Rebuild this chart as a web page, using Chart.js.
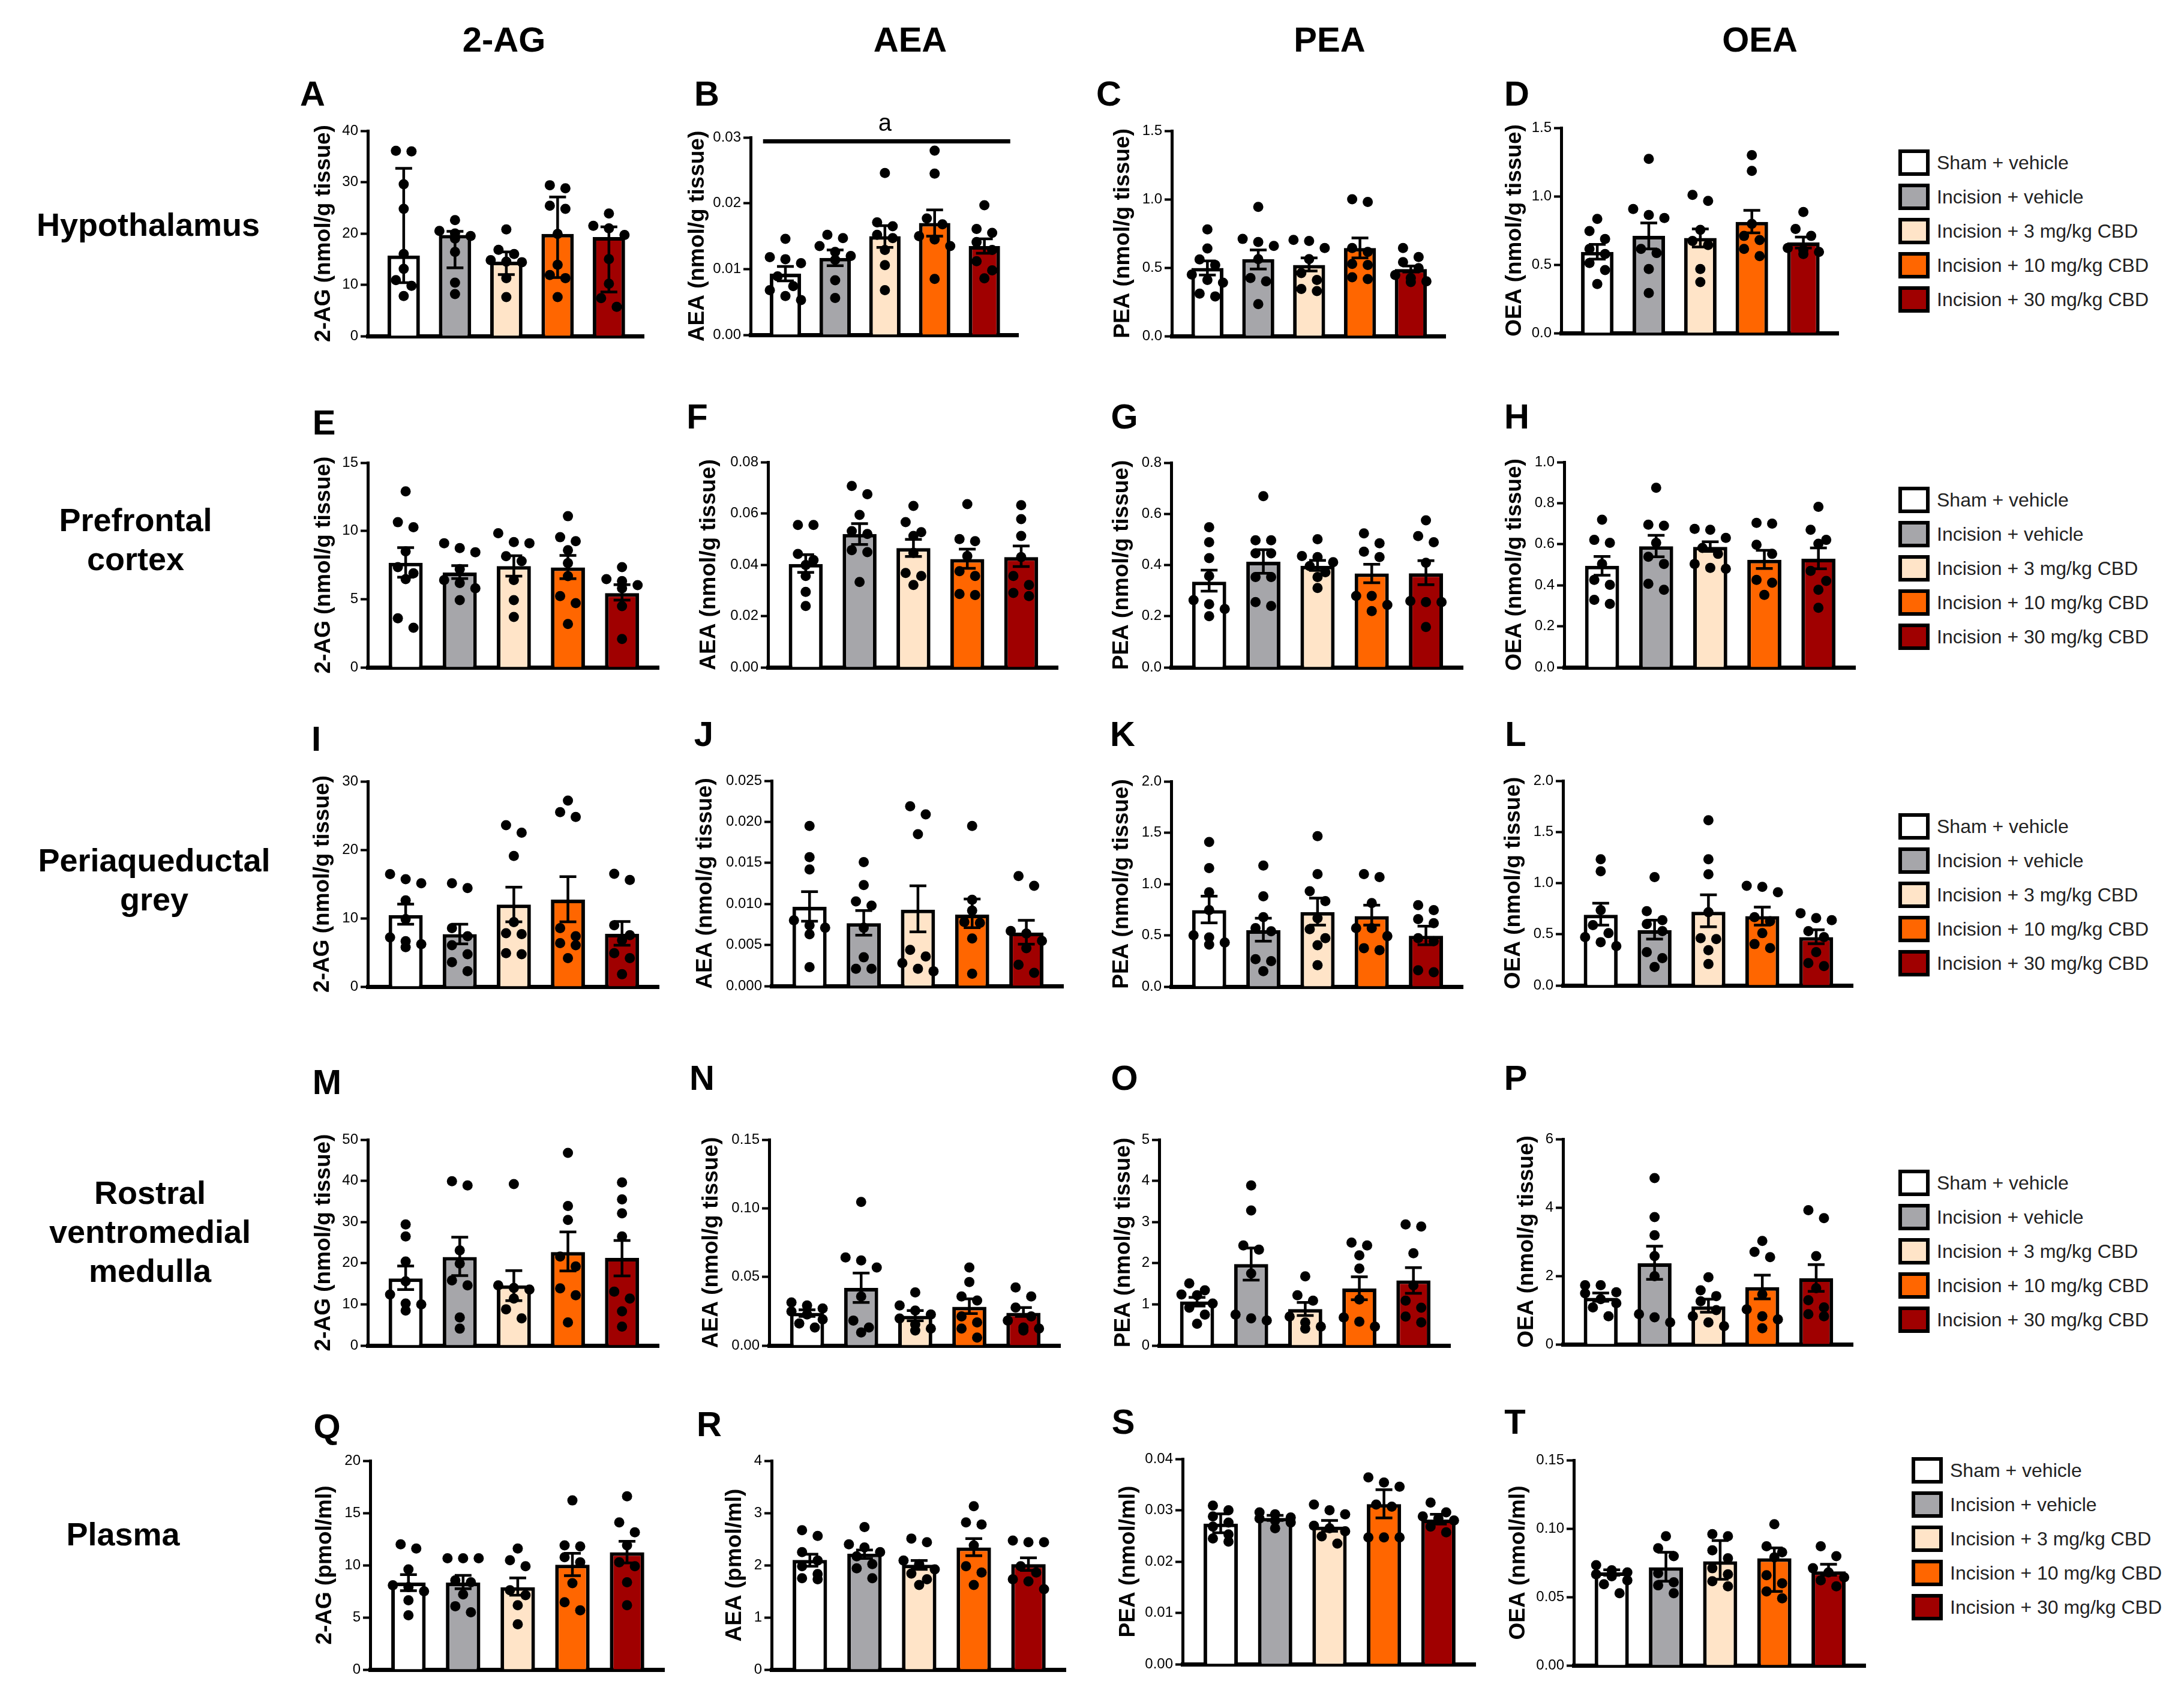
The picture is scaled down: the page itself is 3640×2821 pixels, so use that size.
<!DOCTYPE html>
<html lang="en">
<head>
<meta charset="UTF-8">
<title>Endocannabinoids after incision and CBD</title>
<script src="https://cdn.jsdelivr.net/npm/chart.js@4"></script>
<style>
  body { margin: 0; background: #fff; }
  #fig { position: relative; width: 3640px; height: 2821px; overflow: hidden;
         font-family: "Liberation Sans", Arial, sans-serif; color: #000; }
  #fig canvas { position: absolute; }
  .t { position: absolute; transform: translate(-50%, -50%); white-space: nowrap; font-weight: bold; text-align: center; }
  .col { font-size: 58px; }
  .row { font-size: 54px; line-height: 65px; }
  .let { font-size: 58px; }
  .item { position: absolute; display: flex; align-items: center; height: 44px;
          font-size: 32px; color: #222; white-space: nowrap; }
  .box { width: 52px; height: 44px; border: 6px solid #000; box-sizing: border-box; margin-right: 12px; }
</style>
</head>
<body>
<div id="fig"></div>
<script>
// groups and colours
const groups = ['Sham + vehicle', 'Incision + vehicle', 'Incision + 3 mg/kg CBD', 'Incision + 10 mg/kg CBD', 'Incision + 30 mg/kg CBD'];
const fills = ['#ffffff', '#a6a6aa', '#ffe4c8', '#ff6600', '#a00000'];

// ---- Hypothalamus ----
const A_mean = [15.7, 19.7, 14.5, 19.9, 19.3];
const A_lo = [10.4, 13.3, 12.0, 11.4, 8.6];
const A_hi = [32.7, 20.4, 16.4, 27.1, 21.3];
const A_pts = [
  [36.0, 36.1, 29.6, 24.8, 16.0, 13.1, 10.9, 9.8, 7.8],
  [22.6, 20.5, 20.0, 19.5, 19.0, 16.4, 10.4, 8.2],
  [20.8, 16.8, 16.0, 14.8, 14.5, 14.4, 11.3, 7.6],
  [29.4, 28.8, 25.4, 24.8, 19.9, 13.9, 11.9, 11.3, 7.6],
  [23.9, 21.5, 21.0, 19.7, 15.0, 10.2, 7.4, 5.7]
];
const B_mean = [0.0093, 0.0117, 0.0150, 0.0170, 0.0135];
const B_lo = [0.0082, 0.0105, 0.0133, 0.0150, 0.0124];
const B_hi = [0.0104, 0.0129, 0.0166, 0.0190, 0.0146];
const B_pts = [
  [0.0146, 0.0118, 0.0115, 0.0109, 0.0089, 0.0074, 0.0068, 0.0059, 0.0053],
  [0.0152, 0.0147, 0.0135, 0.0126, 0.0120, 0.0114, 0.0083, 0.0056],
  [0.0246, 0.0171, 0.0165, 0.0152, 0.0147, 0.0129, 0.0106, 0.0068],
  [0.0280, 0.0245, 0.0177, 0.0168, 0.0150, 0.0145, 0.0135, 0.0085],
  [0.0197, 0.0161, 0.0155, 0.0141, 0.0129, 0.0112, 0.0098, 0.0086]
];
const B_sig = { from: 0, to: 4, y: 0.0294, label: 'a' };
const C_mean = [0.498, 0.563, 0.520, 0.644, 0.490];
const C_lo = [0.446, 0.490, 0.476, 0.571, 0.468];
const C_hi = [0.549, 0.629, 0.571, 0.717, 0.512];
const C_pts = [
  [0.78, 0.64, 0.56, 0.52, 0.45, 0.41, 0.39, 0.31, 0.29],
  [0.944, 0.71, 0.688, 0.659, 0.563, 0.424, 0.40, 0.234],
  [0.703, 0.695, 0.644, 0.563, 0.461, 0.41, 0.344, 0.329],
  [1.0, 0.98, 0.644, 0.615, 0.527, 0.52, 0.43, 0.417],
  [0.644, 0.578, 0.541, 0.497, 0.446, 0.424, 0.40, 0.395]
];
const D_mean = [0.593, 0.710, 0.695, 0.812, 0.662];
const D_lo = [0.541, 0.615, 0.629, 0.732, 0.622];
const D_hi = [0.648, 0.805, 0.761, 0.897, 0.702];
const D_pts = [
  [0.834, 0.746, 0.688, 0.615, 0.578, 0.512, 0.461, 0.359],
  [1.273, 0.907, 0.863, 0.841, 0.615, 0.585, 0.468, 0.293],
  [1.01, 0.966, 0.754, 0.673, 0.644, 0.468, 0.373],
  [1.30, 1.185, 0.798, 0.71, 0.68, 0.615, 0.563],
  [0.885, 0.761, 0.71, 0.622, 0.607, 0.593, 0.578]
];

// ---- Prefrontal cortex ----
const E_mean = [7.67, 6.95, 7.42, 7.32, 5.44];
const E_lo = [6.61, 6.51, 6.69, 6.50, 4.93];
const E_hi = [8.78, 7.46, 8.18, 8.20, 6.06];
const E_pts = [
  [12.9, 10.64, 10.27, 8.5, 7.35, 6.9, 6.47, 3.6, 2.9],
  [9.1, 8.74, 8.44, 7.2, 6.4, 6.18, 5.8, 4.93],
  [9.83, 9.18, 9.1, 8.15, 7.79, 6.4, 4.93, 3.69],
  [11.08, 9.54, 9.25, 8.59, 7.64, 6.69, 5.22, 4.71, 3.18],
  [7.35, 6.47, 6.32, 6.03, 5.8, 4.49, 2.08]
];
const F_mean = [0.0403, 0.0520, 0.0465, 0.0422, 0.0430];
const F_lo = [0.0370, 0.0479, 0.0432, 0.0386, 0.0393];
const F_hi = [0.0439, 0.0560, 0.0499, 0.0461, 0.0473];
const F_pts = [
  [0.0555, 0.0555, 0.0442, 0.0418, 0.0399, 0.0356, 0.0294, 0.0239],
  [0.0707, 0.0675, 0.0594, 0.0531, 0.0520, 0.0457, 0.0449, 0.0333],
  [0.0629, 0.0566, 0.0527, 0.0512, 0.0446, 0.0368, 0.0356, 0.0321],
  [0.0636, 0.0500, 0.0492, 0.0434, 0.0375, 0.0356, 0.0286, 0.0282],
  [0.0632, 0.0578, 0.0512, 0.0430, 0.0356, 0.0321, 0.0290, 0.0278]
];
const G_mean = [0.335, 0.413, 0.397, 0.367, 0.368];
const G_lo = [0.298, 0.368, 0.379, 0.331, 0.323];
const G_hi = [0.380, 0.460, 0.418, 0.403, 0.417];
const G_pts = [
  [0.548, 0.489, 0.427, 0.357, 0.263, 0.247, 0.228, 0.2],
  [0.669, 0.497, 0.497, 0.446, 0.446, 0.353, 0.353, 0.255, 0.24],
  [0.501, 0.435, 0.431, 0.411, 0.396, 0.372, 0.353, 0.31],
  [0.524, 0.485, 0.452, 0.431, 0.279, 0.279, 0.244, 0.22],
  [0.575, 0.513, 0.489, 0.409, 0.259, 0.255, 0.255, 0.158]
];
const H_mean = [0.495, 0.590, 0.587, 0.524, 0.529];
const H_lo = [0.449, 0.539, 0.565, 0.482, 0.480];
const H_hi = [0.540, 0.643, 0.612, 0.570, 0.582];
const H_pts = [
  [0.719, 0.621, 0.607, 0.504, 0.426, 0.402, 0.329, 0.309],
  [0.875, 0.695, 0.69, 0.607, 0.539, 0.504, 0.407, 0.378],
  [0.675, 0.67, 0.631, 0.582, 0.553, 0.504, 0.485, 0.48],
  [0.704, 0.70, 0.597, 0.553, 0.426, 0.412, 0.353],
  [0.782, 0.67, 0.621, 0.602, 0.47, 0.421, 0.378, 0.29]
];

// ---- Periaqueductal grey ----
const I_mean = [10.45, 7.67, 12.0, 12.73, 7.73];
const I_lo = [9.13, 6.26, 9.48, 9.48, 6.06];
const I_hi = [12.06, 9.13, 14.55, 16.07, 9.51];
const I_pts = [
  [16.45, 15.7, 15.1, 12.6, 9.86, 7.2, 6.64, 6.2, 5.77],
  [15.1, 14.4, 8.55, 7.37, 6.06, 4.74, 3.57, 2.25],
  [23.6, 22.5, 19.1, 9.42, 7.81, 7.67, 4.89, 4.74],
  [27.2, 25.5, 24.8, 8.55, 7.37, 6.35, 6.06, 4.16],
  [16.5, 15.6, 8.98, 7.52, 6.79, 4.89, 4.16, 1.81]
];
const J_mean = [0.00965, 0.00766, 0.0093, 0.0087, 0.0065];
const J_lo = [0.0079, 0.0062, 0.0066, 0.0071, 0.0051];
const J_hi = [0.0115, 0.0092, 0.0122, 0.0106, 0.0080];
const J_pts = [
  [0.0195, 0.0157, 0.0142, 0.0080, 0.0074, 0.0071, 0.0063, 0.0023],
  [0.0151, 0.0123, 0.0103, 0.0098, 0.0071, 0.0035, 0.0021, 0.0021],
  [0.0219, 0.0209, 0.0185, 0.0044, 0.0036, 0.0028, 0.0021, 0.0018],
  [0.0195, 0.0105, 0.0092, 0.0078, 0.0077, 0.0058, 0.0015],
  [0.0134, 0.0122, 0.0067, 0.0064, 0.0055, 0.0046, 0.0026, 0.0016]
];
const K_mean = [0.745, 0.550, 0.726, 0.687, 0.496];
const K_lo = [0.622, 0.443, 0.600, 0.600, 0.408];
const K_hi = [0.882, 0.667, 0.862, 0.794, 0.589];
const K_pts = [
  [1.41, 1.155, 0.92, 0.745, 0.5, 0.48, 0.43, 0.41],
  [1.18, 0.88, 0.677, 0.57, 0.54, 0.267, 0.248, 0.15],
  [1.467, 1.097, 0.93, 0.833, 0.667, 0.56, 0.472, 0.404, 0.209],
  [1.097, 1.067, 0.814, 0.57, 0.57, 0.492, 0.375, 0.355],
  [0.794, 0.745, 0.658, 0.619, 0.472, 0.443, 0.16, 0.14]
];
const L_mean = [0.690, 0.540, 0.720, 0.677, 0.472];
const L_lo = [0.589, 0.453, 0.574, 0.589, 0.408];
const L_hi = [0.804, 0.638, 0.886, 0.765, 0.544];
const L_pts = [
  [1.233, 1.116, 0.736, 0.589, 0.511, 0.472, 0.423, 0.384],
  [1.058, 0.726, 0.638, 0.6, 0.531, 0.326, 0.267, 0.18],
  [1.614, 1.233, 1.087, 0.716, 0.462, 0.453, 0.345, 0.209],
  [0.974, 0.964, 0.911, 0.667, 0.628, 0.511, 0.404, 0.365],
  [0.706, 0.658, 0.638, 0.531, 0.472, 0.326, 0.219, 0.189]
];

// ---- Rostral ventromedial medulla ----
const M_mean = [16.3, 21.5, 14.6, 22.7, 21.3];
const M_lo = [13.6, 17.0, 10.9, 18.1, 16.9];
const M_hi = [19.3, 26.3, 18.2, 27.6, 25.5];
const M_pts = [
  [29.4, 26.5, 20.4, 15.6, 12.4, 10.2, 10.0, 8.5],
  [39.9, 38.9, 23.1, 19.9, 15.8, 14.6, 6.8, 4.1],
  [39.2, 14.6, 14.0, 13.6, 11.4, 8.8, 6.6],
  [46.8, 33.9, 30.5, 21.6, 19.2, 13.9, 12.2, 5.6],
  [39.6, 35.5, 32.1, 26.5, 13.1, 11.4, 8.3, 4.6]
];
const N_mean = [0.0238, 0.0420, 0.0216, 0.0282, 0.0238];
const N_lo = [0.0212, 0.0314, 0.0180, 0.0233, 0.0212];
const N_hi = [0.0260, 0.0528, 0.0255, 0.0340, 0.0277];
const N_pts = [
  [0.0314, 0.0292, 0.0270, 0.0248, 0.0226, 0.0190, 0.0161, 0.0131],
  [0.1046, 0.0642, 0.0620, 0.0569, 0.0358, 0.0182, 0.0131, 0.0095],
  [0.0387, 0.0292, 0.0255, 0.0226, 0.0197, 0.0153, 0.0124, 0.0109],
  [0.0569, 0.0463, 0.0358, 0.0328, 0.0212, 0.0168, 0.0124, 0.0058],
  [0.0423, 0.0358, 0.0277, 0.0212, 0.0182, 0.0131, 0.0124, 0.0109]
];
const O_mean = [1.07, 1.98, 0.885, 1.386, 1.58];
const O_lo = [0.96, 1.59, 0.73, 1.11, 1.27];
const O_hi = [1.17, 2.37, 1.046, 1.67, 1.89];
const O_pts = [
  [1.51, 1.34, 1.24, 1.22, 1.02, 0.92, 0.75, 0.53],
  [3.89, 3.28, 2.43, 2.33, 1.75, 0.75, 0.66, 0.61],
  [1.68, 1.22, 1.09, 0.705, 0.56, 0.46, 0.41],
  [2.5, 2.43, 2.19, 1.87, 1.12, 0.68, 0.58, 0.46],
  [2.94, 2.89, 2.24, 1.46, 1.09, 0.92, 0.705, 0.56]
];
const P_mean = [1.36, 2.37, 1.11, 1.67, 1.93];
const P_lo = [1.26, 1.90, 0.94, 1.33, 1.55];
const P_hi = [1.50, 2.87, 1.32, 2.02, 2.33];
const P_pts = [
  [1.73, 1.73, 1.52, 1.49, 1.32, 1.2, 1.08, 0.82],
  [4.86, 3.72, 3.19, 2.58, 1.99, 0.88, 0.79, 0.64],
  [1.96, 1.58, 1.41, 1.26, 1.0, 0.82, 0.64, 0.53],
  [3.02, 2.7, 2.55, 1.46, 1.02, 0.82, 0.73, 0.47],
  [3.92, 3.69, 2.58, 1.64, 1.29, 1.08, 0.88, 0.82]
];

// ---- Plasma ----
const Q_mean = [8.33, 8.33, 7.89, 10.05, 11.23];
const Q_lo = [7.56, 7.75, 7.12, 9.0, 10.22];
const Q_hi = [9.09, 9.03, 8.78, 11.14, 12.29];
const Q_pts = [
  [12.0, 11.6, 9.6, 8.08, 7.9, 7.5, 6.64, 5.2],
  [10.66, 10.66, 10.66, 8.55, 8.36, 7.2, 6.07, 5.49],
  [11.6, 10.47, 9.9, 7.6, 7.12, 6.16, 4.34],
  [16.2, 11.9, 11.8, 10.76, 10.28, 8.27, 6.45, 5.68],
  [16.6, 14.1, 13.15, 11.9, 10.28, 9.9, 8.36, 6.16]
];
const R_mean = [2.10, 2.22, 2.01, 2.34, 2.02];
const R_lo = [1.98, 2.13, 1.92, 2.18, 1.90];
const R_hi = [2.21, 2.29, 2.09, 2.51, 2.14];
const R_pts = [
  [2.67, 2.56, 2.25, 2.09, 1.98, 1.83, 1.75, 1.73],
  [2.73, 2.4, 2.34, 2.25, 2.17, 2.02, 1.94, 1.75],
  [2.51, 2.44, 2.09, 2.02, 1.92, 1.84, 1.73, 1.62],
  [3.13, 2.82, 2.78, 2.38, 1.98, 1.86, 1.62],
  [2.47, 2.44, 2.44, 1.98, 1.86, 1.73, 1.69, 1.54]
];
const S_mean = [0.0274, 0.0285, 0.0268, 0.0312, 0.0282];
const S_lo = [0.0256, 0.0280, 0.0259, 0.0285, 0.0273];
const S_hi = [0.0293, 0.0290, 0.0280, 0.0340, 0.0292];
const S_pts = [
  [0.0309, 0.0300, 0.0288, 0.0276, 0.0268, 0.0253, 0.0245, 0.0239],
  [0.0296, 0.0292, 0.0286, 0.0284, 0.0280, 0.0276, 0.0265],
  [0.0311, 0.0300, 0.0292, 0.0270, 0.0265, 0.0259, 0.0249, 0.0235],
  [0.0364, 0.0354, 0.0346, 0.0311, 0.0307, 0.0247, 0.0247, 0.0247],
  [0.0315, 0.0296, 0.0288, 0.0284, 0.0280, 0.0268, 0.0257]
];
const T_mean = [0.0680, 0.0717, 0.0761, 0.0783, 0.0688];
const T_lo = [0.0659, 0.0615, 0.0629, 0.0541, 0.0659];
const T_hi = [0.0698, 0.0827, 0.0912, 0.0859, 0.0739];
const T_pts = [
  [0.0732, 0.0695, 0.0680, 0.0666, 0.0651, 0.0622, 0.0593, 0.0527],
  [0.0944, 0.0856, 0.0798, 0.0673, 0.0607, 0.0585, 0.0527],
  [0.0959, 0.0944, 0.0841, 0.0783, 0.0710, 0.0666, 0.0615, 0.0578],
  [0.1032, 0.0871, 0.0827, 0.0790, 0.0659, 0.0600, 0.0541, 0.0490],
  [0.0871, 0.0798, 0.0710, 0.0680, 0.0644, 0.0622, 0.0578]
];

const FONT = '"Liberation Sans", Arial, sans-serif';
const X_MIN = -0.7, X_MAX = 4.68;

// panel table: data + where the axes sit on the page
const panels = [
  { id: 'A', mean: A_mean, lo: A_lo, hi: A_hi, pts: A_pts, max: 40, step: 10, dec: 0, title: '2-AG (nmol/g tissue)', ax: 613, top: 218, bot: 560, xend: 1073, tOff: 73, let: [521, 155] },
  { id: 'B', mean: B_mean, lo: B_lo, hi: B_hi, pts: B_pts, max: 0.03, step: 0.01, dec: 2, title: 'AEA (nmol/g tissue)', ax: 1251, top: 229, bot: 558, xend: 1697, tOff: 88, let: [1178, 155], sig: B_sig },
  { id: 'C', mean: C_mean, lo: C_lo, hi: C_hi, pts: C_pts, max: 1.5, step: 0.5, dec: 1, title: 'PEA (nmol/g tissue)', ax: 1953, top: 218, bot: 560, xend: 2409, tOff: 81, let: [1848, 155] },
  { id: 'D', mean: D_mean, lo: D_lo, hi: D_hi, pts: D_pts, max: 1.5, step: 0.5, dec: 1, title: 'OEA (nmol/g tissue)', ax: 2602, top: 213, bot: 555, xend: 3064, tOff: 77, let: [2528, 155] },
  { id: 'E', mean: E_mean, lo: E_lo, hi: E_hi, pts: E_pts, max: 15, step: 5, dec: 0, title: '2-AG (nmol/g tissue)', ax: 613, top: 771, bot: 1112, xend: 1098, tOff: 73, let: [540, 703] },
  { id: 'F', mean: F_mean, lo: F_lo, hi: F_hi, pts: F_pts, max: 0.08, step: 0.02, dec: 2, title: 'AEA (nmol/g tissue)', ax: 1280, top: 770, bot: 1112, xend: 1763, tOff: 98, let: [1162, 693] },
  { id: 'G', mean: G_mean, lo: G_lo, hi: G_hi, pts: G_pts, max: 0.8, step: 0.2, dec: 1, title: 'PEA (nmol/g tissue)', ax: 1952, top: 771, bot: 1112, xend: 2438, tOff: 82, let: [1874, 693] },
  { id: 'H', mean: H_mean, lo: H_lo, hi: H_hi, pts: H_pts, max: 1.0, step: 0.2, dec: 1, title: 'OEA (nmol/g tissue)', ax: 2607, top: 770, bot: 1112, xend: 3092, tOff: 82, let: [2528, 693] },
  { id: 'I', mean: I_mean, lo: I_lo, hi: I_hi, pts: I_pts, max: 30, step: 10, dec: 0, title: '2-AG (nmol/g tissue)', ax: 613, top: 1302, bot: 1644, xend: 1098, tOff: 75, let: [527, 1230] },
  { id: 'J', mean: J_mean, lo: J_lo, hi: J_hi, pts: J_pts, max: 0.025, step: 0.005, dec: 3, title: 'AEA (nmol/g tissue)', ax: 1286, top: 1301, bot: 1643, xend: 1772, tOff: 110, let: [1173, 1222] },
  { id: 'K', mean: K_mean, lo: K_lo, hi: K_hi, pts: K_pts, max: 2.0, step: 0.5, dec: 1, title: 'PEA (nmol/g tissue)', ax: 1952, top: 1302, bot: 1644, xend: 2438, tOff: 82, let: [1871, 1222] },
  { id: 'L', mean: L_mean, lo: L_lo, hi: L_hi, pts: L_pts, max: 2.0, step: 0.5, dec: 1, title: 'OEA (nmol/g tissue)', ax: 2605, top: 1301, bot: 1642, xend: 3088, tOff: 82, let: [2526, 1222] },
  { id: 'M', mean: M_mean, lo: M_lo, hi: M_hi, pts: M_pts, max: 50, step: 10, dec: 0, title: '2-AG (nmol/g tissue)', ax: 613, top: 1899, bot: 2242, xend: 1098, tOff: 73, let: [545, 1802] },
  { id: 'N', mean: N_mean, lo: N_lo, hi: N_hi, pts: N_pts, max: 0.15, step: 0.05, dec: 2, title: 'AEA (nmol/g tissue)', ax: 1282, top: 1899, bot: 2242, xend: 1767, tOff: 96, let: [1170, 1795] },
  { id: 'O', mean: O_mean, lo: O_lo, hi: O_hi, pts: O_pts, max: 5, step: 1, dec: 0, title: 'PEA (nmol/g tissue)', ax: 1932, top: 1899, bot: 2242, xend: 2417, tOff: 59, let: [1874, 1795] },
  { id: 'P', mean: P_mean, lo: P_lo, hi: P_hi, pts: P_pts, max: 6, step: 2, dec: 0, title: 'OEA (nmol/g tissue)', ax: 2605, top: 1898, bot: 2240, xend: 3088, tOff: 60, let: [2526, 1795] },
  { id: 'Q', mean: Q_mean, lo: Q_lo, hi: Q_hi, pts: Q_pts, max: 20, step: 5, dec: 0, title: '2-AG (pmol/ml)', ax: 617, top: 2434, bot: 2782, xend: 1107, tOff: 75, let: [545, 2376] },
  { id: 'R', mean: R_mean, lo: R_lo, hi: R_hi, pts: R_pts, max: 4, step: 1, dec: 0, title: 'AEA (pmol/ml)', ax: 1286, top: 2434, bot: 2782, xend: 1776, tOff: 61, let: [1182, 2372] },
  { id: 'S', mean: S_mean, lo: S_lo, hi: S_hi, pts: S_pts, max: 0.04, step: 0.01, dec: 2, title: 'PEA (nmol/ml)', ax: 1971, top: 2431, bot: 2773, xend: 2459, tOff: 90, let: [1872, 2368] },
  { id: 'T', mean: T_mean, lo: T_lo, hi: T_hi, pts: T_pts, max: 0.15, step: 0.05, dec: 2, title: 'OEA (nmol/ml)', ax: 2623, top: 2433, bot: 2775, xend: 3109, tOff: 92, let: [2525, 2368] }
];

const fig = document.getElementById('fig');

function addText(cls, html, x, y) {
  const d = document.createElement('div');
  d.className = 't ' + cls;
  d.innerHTML = html;
  d.style.left = x + 'px';
  d.style.top = y + 'px';
  fig.appendChild(d);
}

// column heads and row names
[['2-AG', 840], ['AEA', 1517], ['PEA', 2216], ['OEA', 2933]].forEach(c => addText('col', c[0], c[1], 65));
[['Hypothalamus', 247, 374], ['Prefrontal<br>cortex', 226, 899], ['Periaqueductal<br>grey', 257, 1466],
 ['Rostral<br>ventromedial<br>medulla', 250, 2052], ['Plasma', 205, 2556]].forEach(r => addText('row', r[0], r[1], r[2]));

// legends, one per row
[[3164, 271], [3164, 833], [3164, 1377], [3164, 1971], [3186, 2450]].forEach(([lx, ly]) => {
  groups.forEach((g, i) => {
    const it = document.createElement('div');
    it.className = 'item';
    it.style.left = lx + 'px';
    it.style.top = (ly + i * 57 - 22) + 'px';
    it.innerHTML = '<span class="box" style="background:' + fills[i] + '"></span><span>' + g + '</span>';
    fig.appendChild(it);
  });
});

// spread the dots of one group sideways when they sit at about the same height
function swarm(vals, max, plotH) {
  const near = 17, step = 26;
  const sorted = vals.slice().sort((a, b) => b - a);
  const rows = [];
  sorted.forEach(v => {
    const r = rows[rows.length - 1];
    if (r && r.length < 3 && (r[0] - v) / max * plotH < near) r.push(v);
    else rows.push([v]);
  });
  const out = [];
  rows.forEach(r => r.forEach((v, j) => out.push({ v: v, dx: (j - (r.length - 1) / 2) * step })));
  return out;
}

// draws the letter over the significance bar
const sigLabel = {
  id: 'sigLabel',
  afterDatasetsDraw(chart, args, opts) {
    if (!opts.sig) return;
    const { ctx, scales: { x, y } } = chart;
    ctx.save();
    ctx.font = '40px ' + FONT;
    ctx.fillStyle = '#000';
    ctx.textAlign = 'center';
    ctx.textBaseline = 'alphabetic';
    ctx.fillText(opts.sig.label, x.getPixelForValue((opts.sig.from + opts.sig.to) / 2), y.getPixelForValue(opts.sig.y) - 18);
    ctx.restore();
  }
};

panels.forEach(p => {
  addText('let', p.id, p.let[0], p.let[1]);

  const W = p.tOff + 22;
  const padT = 50, padB = 22, padR = 14;
  const plotW = p.xend - p.ax, plotH = p.bot - p.top;
  const cv = document.createElement('canvas');
  cv.width = W + plotW + padR;
  cv.height = padT + plotH + padB;
  cv.style.left = (p.ax - W) + 'px';
  cv.style.top = (p.top - padT) + 'px';
  fig.appendChild(cv);

  const xUnit = (X_MAX - X_MIN) / plotW;
  const dots = [];
  p.pts.forEach((vals, g) => swarm(vals, p.max, plotH).forEach(q => dots.push({ x: g + q.dx * xUnit, y: q.v })));

  const cap = 14 * xUnit;
  const err = [];
  p.mean.forEach((m, g) => {
    err.push({ x: g - cap, y: p.hi[g] }, { x: g + cap, y: p.hi[g] }, { x: g, y: p.hi[g] },
             { x: g, y: p.lo[g] }, { x: g - cap, y: p.lo[g] }, { x: g + cap, y: p.lo[g] },
             { x: g + 0.5, y: null });
  });

  const datasets = [
    { type: 'bar', data: p.mean.map((m, g) => ({ x: g, y: m })), backgroundColor: fills,
      borderColor: '#000', borderWidth: 6, barPercentage: 0.63, categoryPercentage: 1, order: 4 },
    { type: 'scatter', data: err, showLine: true, spanGaps: false, borderColor: '#000',
      borderWidth: 4.5, pointRadius: 0, order: 2 },
    { type: 'scatter', data: dots, backgroundColor: '#000', borderWidth: 0, pointRadius: 8.5,
      pointHoverRadius: 8.5, clip: false, order: 1 }
  ];
  if (p.sig) {
    datasets.push({ type: 'scatter', showLine: true, borderColor: '#000', borderWidth: 7, pointRadius: 0, order: 3,
      data: [{ x: p.sig.from - 0.45, y: p.sig.y }, { x: p.sig.to + 0.52, y: p.sig.y }] });
  }

  new Chart(cv.getContext('2d'), {
    type: 'bar',
    data: { datasets: datasets },
    plugins: [sigLabel],
    options: {
      responsive: false,
      animation: false,
      devicePixelRatio: 1,
      layout: { autoPadding: false, padding: { top: padT, right: padR, bottom: padB, left: 0 } },
      plugins: { legend: { display: false }, tooltip: { enabled: false }, sigLabel: { sig: p.sig || null } },
      scales: {
        x: {
          type: 'linear', min: X_MIN, max: X_MAX, z: 1, offset: false,
          afterBuildTicks: s => { s.ticks = [0, 1, 2, 3, 4].map(v => ({ value: v })); },
          afterFit: s => { s.height = 0; },
          ticks: { display: false },
          grid: { display: false, offset: false },
          border: { display: true, color: '#000', width: 7 }
        },
        y: {
          min: 0, max: p.max, z: 1,
          afterFit: s => { s.width = W; },
          ticks: { stepSize: p.step, color: '#000', padding: 4, font: { size: 24, family: FONT },
                   callback: v => v.toFixed(p.dec) },
          grid: { drawOnChartArea: false, drawTicks: true, tickLength: 12, tickWidth: 4, color: '#000' },
          border: { display: true, color: '#000', width: 5 },
          title: { display: true, text: p.title, color: '#000', padding: 0,
                   font: { size: 37, weight: 'bold', family: FONT } }
        }
      }
    }
  });
});
</script>
</body>
</html>
